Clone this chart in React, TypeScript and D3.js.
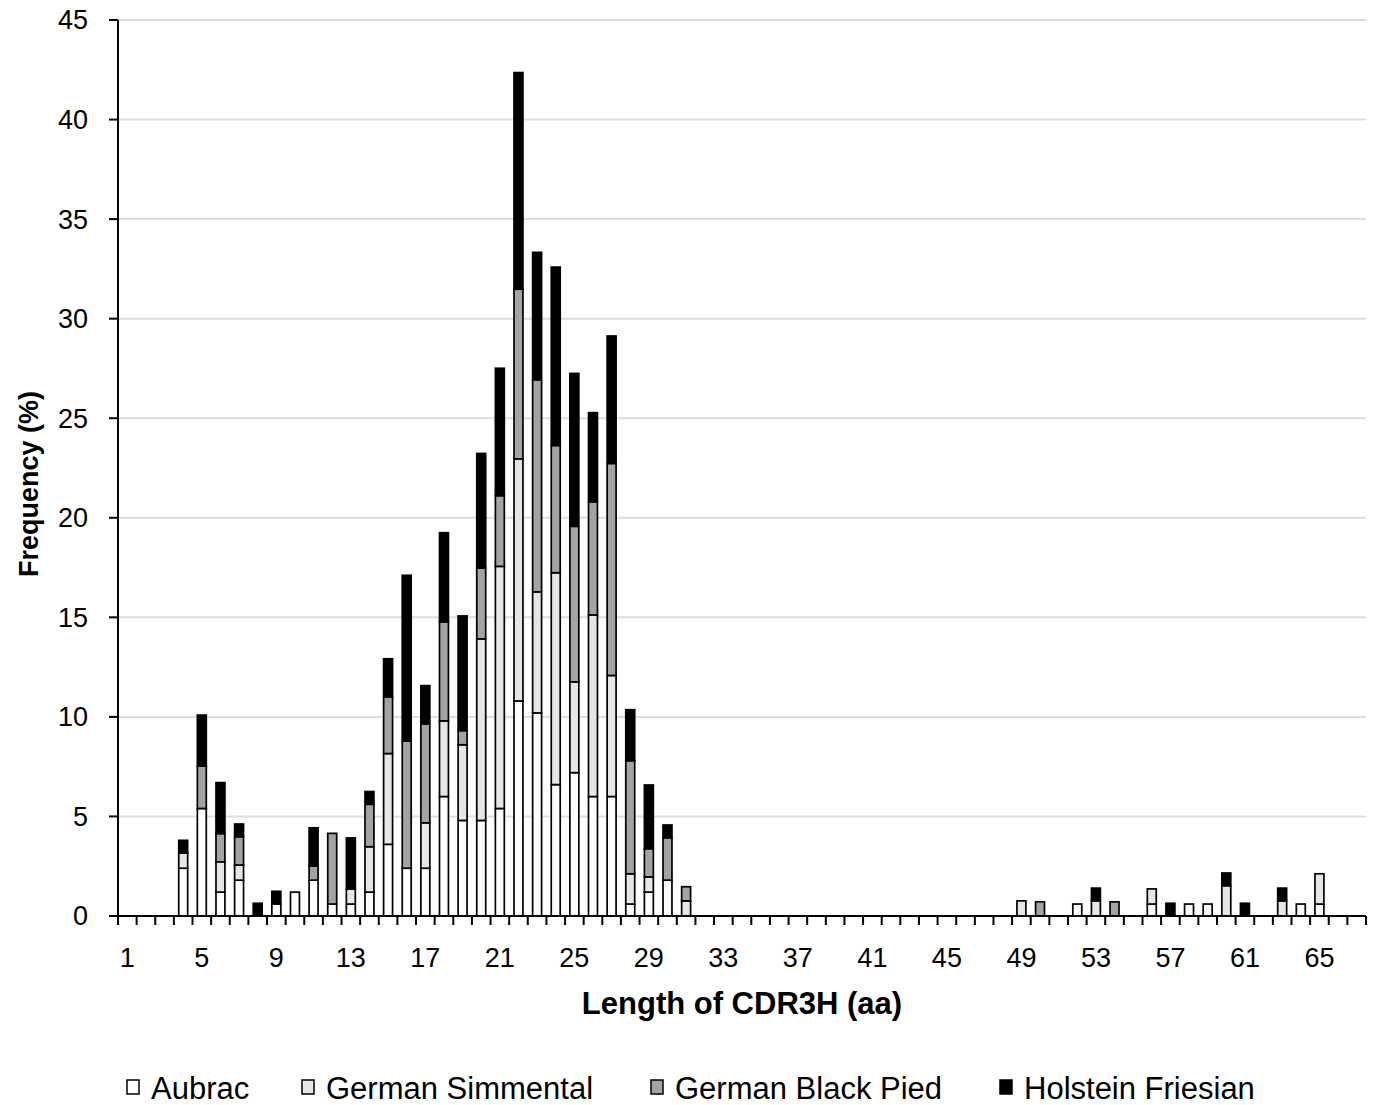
import * as d3 from 'd3';

const lengths = d3.range(1, 68);

const aubrac = [
  0, 0, 0, 2.4, 5.4, 1.2, 1.8, 0, 0.6, 1.2,
  1.8, 0.6, 0.6, 1.2, 3.6, 2.4, 2.4, 6.0, 4.8, 4.8,
  5.4, 10.8, 10.2, 6.6, 7.2, 6.0, 6.0, 0.6, 1.2, 1.8,
  0, 0, 0, 0, 0, 0, 0, 0, 0, 0,
  0, 0, 0, 0, 0, 0, 0, 0, 0, 0,
  0, 0.6, 0, 0, 0, 0.6, 0, 0.6, 0.6, 0,
  0, 0, 0, 0.6, 0.6, 0, 0,
];

const germanSimmental = [
  0, 0, 0, 0.76, 0, 1.52, 0.76, 0, 0, 0,
  0, 0, 0.76, 2.28, 4.56, 0, 2.28, 3.8, 3.8, 9.12,
  12.16, 12.16, 6.08, 10.64, 4.56, 9.12, 6.08, 1.52, 0.76, 0,
  0.76, 0, 0, 0, 0, 0, 0, 0, 0, 0,
  0, 0, 0, 0, 0, 0, 0, 0, 0.76, 0,
  0, 0, 0.76, 0, 0, 0.76, 0, 0, 0, 1.52,
  0, 0, 0.76, 0, 1.52, 0, 0,
];

const germanBlackPied = [
  0, 0, 0, 0, 2.13, 1.42, 1.42, 0, 0, 0,
  0.71, 3.55, 0, 2.13, 2.84, 6.39, 4.97, 4.97, 0.71, 3.55,
  3.55, 8.52, 10.65, 6.39, 7.81, 5.68, 10.65, 5.68, 1.42, 2.13,
  0.71, 0, 0, 0, 0, 0, 0, 0, 0, 0,
  0, 0, 0, 0, 0, 0, 0, 0, 0, 0.71,
  0, 0, 0, 0.71, 0, 0, 0, 0, 0, 0,
  0, 0, 0, 0, 0, 0, 0,
];

const holsteinFriesian = [
  0, 0, 0, 0.64, 2.56, 2.56, 0.64, 0.64, 0.64, 0,
  1.92, 0, 2.56, 0.64, 1.92, 8.32, 1.92, 4.48, 5.76, 5.76,
  6.4, 10.88, 6.4, 8.96, 7.68, 4.48, 6.4, 2.56, 3.2, 0.64,
  0, 0, 0, 0, 0, 0, 0, 0, 0, 0,
  0, 0, 0, 0, 0, 0, 0, 0, 0, 0,
  0, 0, 0.64, 0, 0, 0, 0.64, 0, 0, 0.64,
  0.64, 0, 0.64, 0, 0, 0, 0,
];

const seriesNames = ['Aubrac', 'German Simmental', 'German Black Pied', 'Holstein Friesian'];
const yTicks = [0, 5, 10, 15, 20, 25, 30, 35, 40, 45];
const xTickLabels = [1, 5, 9, 13, 17, 21, 25, 29, 33, 37, 41, 45, 49, 53, 57, 61, 65];

const colors = ['#ffffff', '#e6e6e6', '#a3a3a3', '#000000'];
const font = 'Arial, "Liberation Sans", Helvetica, sans-serif';

export default function App() {
  const width = 1376;
  const height = 1105;
  const left = 118;
  const right = 1366;
  const top = 20;
  const bottom = 916;

  const table = lengths.map((len, i) => ({
    len,
    Aubrac: aubrac[i],
    'German Simmental': germanSimmental[i],
    'German Black Pied': germanBlackPied[i],
    'Holstein Friesian': holsteinFriesian[i],
  }));
  const stacked = d3.stack<any>().keys(seriesNames)(table);

  const x = d3
    .scaleBand<number>()
    .domain(lengths)
    .range([left, right])
    .paddingInner(0.52)
    .paddingOuter(0.26);
  const y = d3.scaleLinear().domain([0, 45]).range([bottom, top]);
  const step = x.step();
  const boundaries = d3.range(0, lengths.length + 1).map((i) => left + i * step);

  const legendX = [127, 302, 651, 1000];

  return (
    <svg
      width={width}
      height={height}
      style={{ position: 'absolute', left: 0, top: 0, background: '#fff' }}
      fontFamily={font}
    >
      {yTicks.slice(1).map((t) => (
        <line key={'g' + t} x1={left} x2={right} y1={y(t)} y2={y(t)} stroke="#dedede" strokeWidth={2} />
      ))}

      {stacked.map((layer, si) =>
        layer.map((d, i) => {
          const h = y(d[0]) - y(d[1]);
          if (h <= 0.01) return null;
          return (
            <rect
              key={si + '-' + i}
              x={x(lengths[i])}
              y={y(d[1])}
              width={x.bandwidth()}
              height={h}
              fill={colors[si]}
              stroke="#000"
              strokeWidth={1.7}
            />
          );
        })
      )}

      {/* axes */}
      <line x1={left} x2={left} y1={top} y2={bottom} stroke="#000" strokeWidth={2} />
      <line x1={left - 9} x2={right} y1={bottom} y2={bottom} stroke="#000" strokeWidth={2} />
      {yTicks.map((t) => (
        <g key={'y' + t}>
          <line x1={left - 9} x2={left} y1={y(t)} y2={y(t)} stroke="#000" strokeWidth={2} />
          <text x={88} y={y(t)} dy="0.35em" textAnchor="end" fontSize={27} fill="#000">
            {t}
          </text>
        </g>
      ))}
      {boundaries.map((bx, i) => (
        <line key={'xt' + i} x1={bx} x2={bx} y1={bottom} y2={bottom + 9} stroke="#000" strokeWidth={2} />
      ))}
      {xTickLabels.map((t) => (
        <text
          key={'xl' + t}
          x={(x(t) as number) + x.bandwidth() / 2}
          y={967}
          textAnchor="middle"
          fontSize={27}
          fill="#000"
        >
          {t}
        </text>
      ))}

      <text x={742} y={1014} textAnchor="middle" fontSize={31} fontWeight="bold" fill="#000">
        Length of CDR3H (aa)
      </text>
      <text
        transform={`translate(38,484) rotate(-90)`}
        textAnchor="middle"
        fontSize={27}
        fontWeight="bold"
        fill="#000"
      >
        Frequency (%)
      </text>

      {seriesNames.map((name, i) => (
        <g key={name} transform={`translate(${legendX[i]},0)`}>
          <rect x={0} y={1080} width={12} height={14} fill={colors[i]} stroke="#000" strokeWidth={1.5} />
          <text x={24} y={1099} fontSize={31} fill="#000">
            {name}
          </text>
        </g>
      ))}
    </svg>
  );
}
